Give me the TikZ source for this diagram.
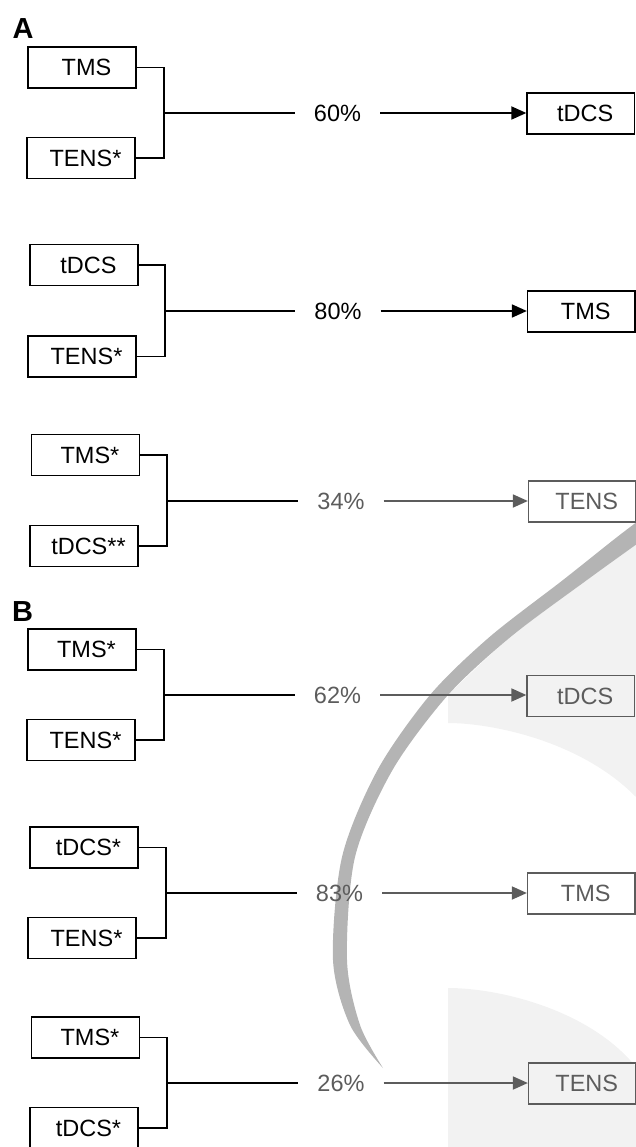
\documentclass[tikz,border=0pt]{standalone}
\usepackage{fontspec}
\setmainfont{Liberation Sans}
\usetikzlibrary{arrows.meta}
\definecolor{dg}{HTML}{5C5C5C}
\definecolor{wmarc}{HTML}{B4B4B4}
\definecolor{wmlight}{HTML}{F2F2F2}
\tikzset{
  stimbox/.style={draw, line width=1.3pt, minimum width=108pt, minimum height=41pt,
    inner sep=0pt, font=\fontsize{23.5}{27}\selectfont, execute at begin node=\hspace*{9pt}},
  rbox/.style={stimbox, minimum width=107.5pt},
  pct/.style={inner xsep=19pt, inner ysep=0pt, font=\fontsize{23.5}{27}\selectfont},
  brk/.style={line width=1.4pt},
  mid/.style={line width=1.8pt},
  arr/.style={line width=1.8pt, -{Triangle[length=15pt,width=13pt]}},
  gry/.style={draw=dg, text=dg},
  panel/.style={font=\fontsize{29}{30}\selectfont\bfseries, inner sep=0pt}
}
\begin{document}
\begin{tikzpicture}[x=1pt,y=-1pt]
\useasboundingbox (0,0) rectangle (636,1147);
% ---- watermark ----
\fill[wmlight] plot[smooth] coordinates {(707,495) (651,534) (587,580) (510.5,637) (448,695)} -- (448,723)
  .. controls (490,723) and (580,740) .. (636,797) -- (700,797) -- cycle;
\fill[wmlight] (448,1147) -- (448,988) .. controls (500,988) and (590,1010) .. (636,1067) -- (636,1147) -- cycle;
\fill[wmarc] plot[smooth] coordinates {(673,495) (621,534) (563,580) (489.5,637) (430,695) (377.5,770) (342,857) (333,960) (350,1025) (383,1068)}
  -- plot[smooth] coordinates {(383,1068) (360,1025) (347,960) (355,857) (392.5,770) (448,695) (510.5,637) (587,580) (651,534) (707,495)} -- cycle;
% ---- panel labels ----
\node[panel] (A) at (23,28.5) {A};
\node[panel] (B) at (22.5,612) {B};
% ---- group 1 ----
\node[stimbox] (a1) at (82,67.5) {TMS};
\node[stimbox] (b1) at (81,158) {TENS*};
\coordinate (j1) at (164,113);
\node[pct] (p1) at (337.5,113) {60\%};
\node[rbox] (r1) at (580.75,113.5) {tDCS};
\draw[brk] (a1.east) -| (j1) |- (b1.east);
\draw[mid] (j1) -- (p1.west);
\draw[arr] (p1.east) -- (p1.east -| r1.west);
% ---- group 2 ----
\node[stimbox] (a2) at (84,265) {tDCS};
\node[stimbox] (b2) at (82,356.5) {TENS*};
\coordinate (j2) at (165,311);
\node[pct] (p2) at (338,311) {80\%};
\node[rbox] (r2) at (581.25,311.5) {TMS};
\draw[brk] (a2.east) -| (j2) |- (b2.east);
\draw[mid] (j2) -- (p2.west);
\draw[arr] (p2.east) -- (p2.east -| r2.west);
% ---- group 3 ----
\node[stimbox] (a3) at (85.5,455) {TMS*};
\node[stimbox] (b3) at (84,546) {tDCS**};
\coordinate (j3) at (167,501);
\node[pct, text=dg] (p3) at (341,501) {34\%};
\node[rbox, gry] (r3) at (582.25,501.5) {TENS};
\draw[brk] (a3.east) -| (j3) |- (b3.east);
\draw[mid] (j3) -- (p3.west);
\draw[arr, dg] (p3.east) -- (p3.east -| r3.west);
% ---- group 4 ----
\node[stimbox] (a4) at (82,649.5) {TMS*};
\node[stimbox] (b4) at (81,740) {TENS*};
\coordinate (j4) at (164,695);
\node[pct, text=dg] (p4) at (337.5,695) {62\%};
\node[rbox, gry] (r4) at (580.75,696) {tDCS};
\draw[brk] (a4.east) -| (j4) |- (b4.east);
\draw[mid] (j4) -- (p4.west);
\draw[arr, dg] (p4.east) -- (p4.east -| r4.west);
% ---- group 5 ----
\node[stimbox] (a5) at (84,847.5) {tDCS*};
\node[stimbox] (b5) at (82,938) {TENS*};
\coordinate (j5) at (166,893);
\node[pct, text=dg] (p5) at (339.5,893) {83\%};
\node[rbox, gry] (r5) at (581.25,893.5) {TMS};
\draw[brk] (a5.east) -| (j5) |- (b5.east);
\draw[mid] (j5) -- (p5.west);
\draw[arr, dg] (p5.east) -- (p5.east -| r5.west);
% ---- group 6 ----
\node[stimbox] (a6) at (85.5,1037.5) {TMS*};
\node[stimbox] (b6) at (84,1128) {tDCS*};
\coordinate (j6) at (167,1083);
\node[pct, text=dg] (p6) at (341,1083) {26\%};
\node[rbox, gry] (r6) at (582.25,1083.5) {TENS};
\draw[brk] (a6.east) -| (j6) |- (b6.east);
\draw[mid] (j6) -- (p6.west);
\draw[arr, dg] (p6.east) -- (p6.east -| r6.west);
\end{tikzpicture}
\end{document}
